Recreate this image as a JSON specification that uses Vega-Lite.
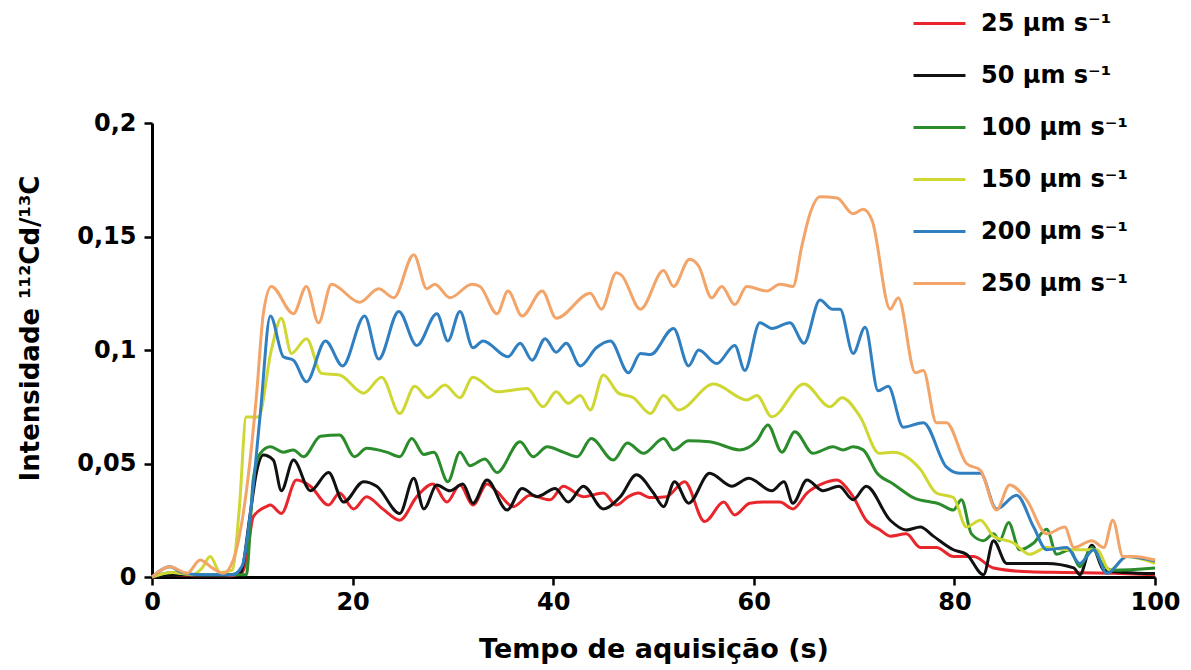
{
 "$schema": "https://vega.github.io/schema/vega-lite/v6.json",
 "width": 1003, "height": 454,
 "autosize": {"type": "none"},
 "padding": {"left": 152, "top": 123, "right": 36, "bottom": 93},
 "background": "white",
 "config": {"view": {"stroke": null}, "font": "DejaVu Sans"},
 "data": {"values": [
{"s":"25","t":0,"v":0},{"s":"25","t":2,"v":0.001},{"s":"25","t":5,"v":0.0005},{"s":"25","t":8,"v":0.0005},{"s":"25","t":9,"v":0.002},{"s":"25","t":9.4,"v":0.0075},{"s":"25","t":10.1,"v":0.0266},{"s":"25","t":11.4,"v":0.031},{"s":"25","t":11.8,"v":0.0317},{"s":"25","t":12.9,"v":0.028},{"s":"25","t":14.4,"v":0.0427},{"s":"25","t":15.8,"v":0.04},{"s":"25","t":17.6,"v":0.0317},{"s":"25","t":18.7,"v":0.037},{"s":"25","t":20.1,"v":0.03},{"s":"25","t":21.4,"v":0.0354},{"s":"25","t":23,"v":0.03},{"s":"25","t":24.7,"v":0.025},{"s":"25","t":26.4,"v":0.0354},{"s":"25","t":28,"v":0.041},{"s":"25","t":29.4,"v":0.033},{"s":"25","t":30.7,"v":0.0405},{"s":"25","t":32,"v":0.0317},{"s":"25","t":33.4,"v":0.041},{"s":"25","t":34.4,"v":0.0376},{"s":"25","t":36,"v":0.031},{"s":"25","t":37.7,"v":0.036},{"s":"25","t":39.7,"v":0.034},{"s":"25","t":41,"v":0.04},{"s":"25","t":43,"v":0.0354},{"s":"25","t":45,"v":0.037},{"s":"25","t":46.3,"v":0.0317},{"s":"25","t":47.5,"v":0.0354},{"s":"25","t":48.5,"v":0.037},{"s":"25","t":49.6,"v":0.035},{"s":"25","t":51.3,"v":0.0354},{"s":"25","t":53.1,"v":0.042},{"s":"25","t":55.1,"v":0.0244},{"s":"25","t":57,"v":0.033},{"s":"25","t":58.1,"v":0.0273},{"s":"25","t":59.6,"v":0.0325},{"s":"25","t":61,"v":0.033},{"s":"25","t":62.6,"v":0.033},{"s":"25","t":63.9,"v":0.03},{"s":"25","t":65.3,"v":0.037},{"s":"25","t":66.8,"v":0.041},{"s":"25","t":68.3,"v":0.0427},{"s":"25","t":69.3,"v":0.039},{"s":"25","t":69.9,"v":0.0354},{"s":"25","t":71.2,"v":0.025},{"s":"25","t":72.6,"v":0.0207},{"s":"25","t":73.6,"v":0.018},{"s":"25","t":75.2,"v":0.019},{"s":"25","t":76.6,"v":0.013},{"s":"25","t":78.2,"v":0.013},{"s":"25","t":79.9,"v":0.009},{"s":"25","t":81.9,"v":0.009},{"s":"25","t":83.9,"v":0.004},{"s":"25","t":87.5,"v":0.0023},{"s":"25","t":91,"v":0.002},{"s":"25","t":95.8,"v":0.0016},{"s":"25","t":100,"v":0.001},
{"s":"50","t":0,"v":0},{"s":"50","t":3,"v":0.001},{"s":"50","t":6,"v":0.0005},{"s":"50","t":8.8,"v":0.0016},{"s":"50","t":9.8,"v":0.028},{"s":"50","t":10.4,"v":0.0457},{"s":"50","t":11.1,"v":0.0537},{"s":"50","t":12.1,"v":0.0515},{"s":"50","t":12.9,"v":0.038},{"s":"50","t":14.1,"v":0.0515},{"s":"50","t":15.8,"v":0.038},{"s":"50","t":17.6,"v":0.046},{"s":"50","t":19.1,"v":0.033},{"s":"50","t":21.1,"v":0.042},{"s":"50","t":22.4,"v":0.04},{"s":"50","t":24.7,"v":0.028},{"s":"50","t":26.1,"v":0.0435},{"s":"50","t":27.1,"v":0.03},{"s":"50","t":28.4,"v":0.0405},{"s":"50","t":29.7,"v":0.038},{"s":"50","t":31,"v":0.041},{"s":"50","t":32,"v":0.0325},{"s":"50","t":33.4,"v":0.0427},{"s":"50","t":35.4,"v":0.0295},{"s":"50","t":36.9,"v":0.039},{"s":"50","t":38.4,"v":0.0354},{"s":"50","t":40.2,"v":0.039},{"s":"50","t":41.5,"v":0.033},{"s":"50","t":43,"v":0.04},{"s":"50","t":45,"v":0.03},{"s":"50","t":46.7,"v":0.0354},{"s":"50","t":48.3,"v":0.045},{"s":"50","t":50,"v":0.037},{"s":"50","t":51,"v":0.031},{"s":"50","t":52.1,"v":0.042},{"s":"50","t":53.5,"v":0.0325},{"s":"50","t":55.6,"v":0.0457},{"s":"50","t":57.8,"v":0.04},{"s":"50","t":59.5,"v":0.0435},{"s":"50","t":61.8,"v":0.038},{"s":"50","t":63,"v":0.042},{"s":"50","t":63.9,"v":0.0325},{"s":"50","t":65.3,"v":0.0427},{"s":"50","t":66.9,"v":0.038},{"s":"50","t":68.5,"v":0.04},{"s":"50","t":69.9,"v":0.034},{"s":"50","t":71.2,"v":0.04},{"s":"50","t":73.6,"v":0.025},{"s":"50","t":75.2,"v":0.0207},{"s":"50","t":76.6,"v":0.022},{"s":"50","t":77.9,"v":0.018},{"s":"50","t":79.9,"v":0.012},{"s":"50","t":81.2,"v":0.01},{"s":"50","t":82.9,"v":0.001},{"s":"50","t":83.9,"v":0.016},{"s":"50","t":85.2,"v":0.006},{"s":"50","t":89.2,"v":0.006},{"s":"50","t":91.9,"v":0.004},{"s":"50","t":92.5,"v":0.001},{"s":"50","t":93.7,"v":0.014},{"s":"50","t":94.9,"v":0.003},{"s":"50","t":97,"v":0.002},{"s":"50","t":100,"v":0.0015},
{"s":"100","t":0,"v":0},{"s":"100","t":2,"v":0.002},{"s":"100","t":4,"v":0.001},{"s":"100","t":7,"v":0.001},{"s":"100","t":9.4,"v":0.001},{"s":"100","t":10.1,"v":0.043},{"s":"100","t":10.8,"v":0.0545},{"s":"100","t":11.8,"v":0.0574},{"s":"100","t":13.1,"v":0.055},{"s":"100","t":14.1,"v":0.056},{"s":"100","t":15.1,"v":0.053},{"s":"100","t":16.8,"v":0.062},{"s":"100","t":18.7,"v":0.0626},{"s":"100","t":20.2,"v":0.053},{"s":"100","t":21.4,"v":0.0567},{"s":"100","t":23.4,"v":0.055},{"s":"100","t":24.7,"v":0.053},{"s":"100","t":25.9,"v":0.061},{"s":"100","t":27.1,"v":0.054},{"s":"100","t":28.1,"v":0.055},{"s":"100","t":29.5,"v":0.042},{"s":"100","t":30.7,"v":0.055},{"s":"100","t":31.7,"v":0.049},{"s":"100","t":33.2,"v":0.052},{"s":"100","t":34.4,"v":0.046},{"s":"100","t":36.7,"v":0.0596},{"s":"100","t":38,"v":0.053},{"s":"100","t":39.4,"v":0.0574},{"s":"100","t":41,"v":0.055},{"s":"100","t":42.4,"v":0.053},{"s":"100","t":43.8,"v":0.061},{"s":"100","t":46,"v":0.0515},{"s":"100","t":47.4,"v":0.059},{"s":"100","t":49,"v":0.0545},{"s":"100","t":51,"v":0.061},{"s":"100","t":52,"v":0.056},{"s":"100","t":53.5,"v":0.06},{"s":"100","t":55.6,"v":0.0596},{"s":"100","t":58.6,"v":0.056},{"s":"100","t":60.3,"v":0.06},{"s":"100","t":61.4,"v":0.067},{"s":"100","t":62.8,"v":0.055},{"s":"100","t":64.1,"v":0.064},{"s":"100","t":65.9,"v":0.0545},{"s":"100","t":67.9,"v":0.0574},{"s":"100","t":68.9,"v":0.056},{"s":"100","t":69.9,"v":0.0574},{"s":"100","t":70.9,"v":0.056},{"s":"100","t":72.3,"v":0.0457},{"s":"100","t":73.9,"v":0.041},{"s":"100","t":75.9,"v":0.035},{"s":"100","t":78.6,"v":0.032},{"s":"100","t":79.9,"v":0.0295},{"s":"100","t":80.7,"v":0.034},{"s":"100","t":81.7,"v":0.019},{"s":"100","t":82.9,"v":0.016},{"s":"100","t":83.9,"v":0.019},{"s":"100","t":84.5,"v":0.016},{"s":"100","t":85.4,"v":0.024},{"s":"100","t":86.5,"v":0.012},{"s":"100","t":87.9,"v":0.015},{"s":"100","t":89.2,"v":0.021},{"s":"100","t":90.2,"v":0.01},{"s":"100","t":91.5,"v":0.012},{"s":"100","t":92.5,"v":0.0045},{"s":"100","t":93.7,"v":0.013},{"s":"100","t":94.7,"v":0.006},{"s":"100","t":95.8,"v":0.003},{"s":"100","t":100,"v":0.004},
{"s":"150","t":0,"v":0},{"s":"150","t":2,"v":0.002},{"s":"150","t":4,"v":0.001},{"s":"150","t":5,"v":0.004},{"s":"150","t":5.8,"v":0.009},{"s":"150","t":6.8,"v":0.002},{"s":"150","t":8,"v":0.003},{"s":"150","t":8.7,"v":0.03},{"s":"150","t":9.4,"v":0.0705},{"s":"150","t":10.6,"v":0.0705},{"s":"150","t":11.9,"v":0.1},{"s":"150","t":12.9,"v":0.114},{"s":"150","t":13.9,"v":0.0985},{"s":"150","t":15.4,"v":0.105},{"s":"150","t":16.9,"v":0.0897},{"s":"150","t":18.7,"v":0.089},{"s":"150","t":21.1,"v":0.081},{"s":"150","t":22.9,"v":0.088},{"s":"150","t":24.7,"v":0.072},{"s":"150","t":26.2,"v":0.084},{"s":"150","t":27.5,"v":0.079},{"s":"150","t":29.2,"v":0.0846},{"s":"150","t":30.7,"v":0.079},{"s":"150","t":32,"v":0.088},{"s":"150","t":34.4,"v":0.0816},{"s":"150","t":37.4,"v":0.083},{"s":"150","t":39,"v":0.075},{"s":"150","t":40.3,"v":0.0816},{"s":"150","t":41.5,"v":0.0765},{"s":"150","t":42.7,"v":0.08},{"s":"150","t":43.7,"v":0.0736},{"s":"150","t":45,"v":0.089},{"s":"150","t":46.5,"v":0.081},{"s":"150","t":48,"v":0.079},{"s":"150","t":49.7,"v":0.072},{"s":"150","t":51,"v":0.08},{"s":"150","t":52.5,"v":0.0736},{"s":"150","t":56,"v":0.085},{"s":"150","t":59.3,"v":0.078},{"s":"150","t":60.3,"v":0.08},{"s":"150","t":61.8,"v":0.0706},{"s":"150","t":65,"v":0.085},{"s":"150","t":67.6,"v":0.075},{"s":"150","t":68.8,"v":0.079},{"s":"150","t":70.6,"v":0.0706},{"s":"150","t":72.5,"v":0.0545},{"s":"150","t":73.9,"v":0.055},{"s":"150","t":76.6,"v":0.0475},{"s":"150","t":78.2,"v":0.037},{"s":"150","t":79.9,"v":0.035},{"s":"150","t":81.2,"v":0.022},{"s":"150","t":82.6,"v":0.025},{"s":"150","t":83.9,"v":0.018},{"s":"150","t":85.9,"v":0.015},{"s":"150","t":87.5,"v":0.01},{"s":"150","t":89.2,"v":0.013},{"s":"150","t":91.2,"v":0.012},{"s":"150","t":94.2,"v":0.012},{"s":"150","t":95.5,"v":0.003},{"s":"150","t":97.2,"v":0.009},{"s":"150","t":100,"v":0.006},
{"s":"200","t":0,"v":0},{"s":"200","t":1.8,"v":0.0045},{"s":"200","t":3,"v":0.002},{"s":"200","t":5,"v":0.001},{"s":"200","t":8,"v":0.001},{"s":"200","t":9,"v":0.005},{"s":"200","t":9.8,"v":0.028},{"s":"200","t":10.8,"v":0.072},{"s":"200","t":11.8,"v":0.115},{"s":"200","t":13.1,"v":0.097},{"s":"200","t":14.1,"v":0.0955},{"s":"200","t":15.4,"v":0.086},{"s":"200","t":17.3,"v":0.104},{"s":"200","t":19,"v":0.093},{"s":"200","t":21.2,"v":0.115},{"s":"200","t":22.6,"v":0.096},{"s":"200","t":24.6,"v":0.117},{"s":"200","t":26.4,"v":0.102},{"s":"200","t":28.4,"v":0.116},{"s":"200","t":29.5,"v":0.104},{"s":"200","t":30.7,"v":0.117},{"s":"200","t":32,"v":0.101},{"s":"200","t":33,"v":0.104},{"s":"200","t":35.5,"v":0.097},{"s":"200","t":36.7,"v":0.103},{"s":"200","t":37.9,"v":0.0955},{"s":"200","t":39.2,"v":0.105},{"s":"200","t":40.3,"v":0.099},{"s":"200","t":41.3,"v":0.103},{"s":"200","t":42.7,"v":0.093},{"s":"200","t":44.3,"v":0.101},{"s":"200","t":45.7,"v":0.104},{"s":"200","t":47.5,"v":0.09},{"s":"200","t":48.7,"v":0.0985},{"s":"200","t":49.7,"v":0.098},{"s":"200","t":52,"v":0.1095},{"s":"200","t":53.5,"v":0.093},{"s":"200","t":54.5,"v":0.1},{"s":"200","t":56.3,"v":0.094},{"s":"200","t":58.1,"v":0.102},{"s":"200","t":59.1,"v":0.091},{"s":"200","t":60.6,"v":0.112},{"s":"200","t":61.8,"v":0.1095},{"s":"200","t":63.6,"v":0.112},{"s":"200","t":65,"v":0.103},{"s":"200","t":66.6,"v":0.122},{"s":"200","t":67.8,"v":0.118},{"s":"200","t":68.6,"v":0.118},{"s":"200","t":69.9,"v":0.0985},{"s":"200","t":71.1,"v":0.11},{"s":"200","t":72.4,"v":0.082},{"s":"200","t":73.4,"v":0.084},{"s":"200","t":74.9,"v":0.066},{"s":"200","t":76.9,"v":0.068},{"s":"200","t":79.2,"v":0.0485},{"s":"200","t":80.5,"v":0.0457},{"s":"200","t":82.6,"v":0.0457},{"s":"200","t":84.2,"v":0.03},{"s":"200","t":86.2,"v":0.036},{"s":"200","t":87.9,"v":0.022},{"s":"200","t":89.2,"v":0.012},{"s":"200","t":91.2,"v":0.013},{"s":"200","t":92.5,"v":0.006},{"s":"200","t":93.9,"v":0.012},{"s":"200","t":95.2,"v":0.0016},{"s":"200","t":97.2,"v":0.009},{"s":"200","t":100,"v":0.007},
{"s":"250","t":0,"v":0},{"s":"250","t":1.8,"v":0.0045},{"s":"250","t":3.5,"v":0.0016},{"s":"250","t":4.8,"v":0.0075},{"s":"250","t":6,"v":0.004},{"s":"250","t":7.1,"v":0.0016},{"s":"250","t":8.1,"v":0.0075},{"s":"250","t":9.1,"v":0.028},{"s":"250","t":10.4,"v":0.079},{"s":"250","t":11.1,"v":0.116},{"s":"250","t":11.9,"v":0.128},{"s":"250","t":14.1,"v":0.116},{"s":"250","t":15.4,"v":0.128},{"s":"250","t":16.6,"v":0.112},{"s":"250","t":17.9,"v":0.129},{"s":"250","t":20.7,"v":0.121},{"s":"250","t":22.6,"v":0.127},{"s":"250","t":24.1,"v":0.123},{"s":"250","t":26.1,"v":0.142},{"s":"250","t":27.4,"v":0.127},{"s":"250","t":28.2,"v":0.129},{"s":"250","t":29.7,"v":0.123},{"s":"250","t":31.9,"v":0.129},{"s":"250","t":32.7,"v":0.128},{"s":"250","t":34.4,"v":0.116},{"s":"250","t":35.5,"v":0.126},{"s":"250","t":36.9,"v":0.115},{"s":"250","t":38.9,"v":0.126},{"s":"250","t":40.3,"v":0.114},{"s":"250","t":43.7,"v":0.125},{"s":"250","t":44.8,"v":0.118},{"s":"250","t":46.3,"v":0.134},{"s":"250","t":46.8,"v":0.133},{"s":"250","t":48.7,"v":0.118},{"s":"250","t":51,"v":0.135},{"s":"250","t":52,"v":0.128},{"s":"250","t":53.6,"v":0.14},{"s":"250","t":54.5,"v":0.137},{"s":"250","t":55.8,"v":0.123},{"s":"250","t":56.8,"v":0.128},{"s":"250","t":58.1,"v":0.12},{"s":"250","t":59.3,"v":0.128},{"s":"250","t":61.3,"v":0.126},{"s":"250","t":62.6,"v":0.129},{"s":"250","t":63.9,"v":0.128},{"s":"250","t":64.8,"v":0.146},{"s":"250","t":65.6,"v":0.16},{"s":"250","t":66.6,"v":0.1675},{"s":"250","t":68.3,"v":0.167},{"s":"250","t":69.9,"v":0.16},{"s":"250","t":70.9,"v":0.162},{"s":"250","t":71.8,"v":0.157},{"s":"250","t":73.6,"v":0.118},{"s":"250","t":74.4,"v":0.123},{"s":"250","t":76.1,"v":0.09},{"s":"250","t":76.9,"v":0.091},{"s":"250","t":78.2,"v":0.068},{"s":"250","t":79.2,"v":0.068},{"s":"250","t":81.2,"v":0.05},{"s":"250","t":82.6,"v":0.047},{"s":"250","t":84.2,"v":0.0295},{"s":"250","t":85.5,"v":0.0405},{"s":"250","t":87.2,"v":0.034},{"s":"250","t":89.2,"v":0.019},{"s":"250","t":91,"v":0.022},{"s":"250","t":91.9,"v":0.013},{"s":"250","t":93.7,"v":0.016},{"s":"250","t":94.9,"v":0.013},{"s":"250","t":95.8,"v":0.025},{"s":"250","t":96.8,"v":0.009},{"s":"250","t":97.8,"v":0.009},{"s":"250","t":100,"v":0.0075}
 ]},
 "mark": {"type": "line", "interpolate": "monotone", "strokeWidth": 3},
 "encoding": {
  "x": {"field": "t", "type": "quantitative",
        "scale": {"domain": [0, 100], "nice": false},
        "axis": {"values": [0, 20, 40, 60, 80, 100], "title": "Tempo de aquisição (s)", "grid": false, "labelFlush": false,
                 "domainColor": "black", "domainWidth": 3, "tickColor": "black", "tickWidth": 2.5, "tickSize": 8,
                 "labelFont": "DejaVu Sans", "labelFontWeight": "bold", "labelFontSize": 24, "labelColor": "black", "labelPadding": 5,
                 "titleFont": "DejaVu Sans", "titleFontWeight": "bold", "titleFontSize": 27, "titleColor": "black", "titlePadding": 22}},
  "y": {"field": "v", "type": "quantitative",
        "scale": {"domain": [0, 0.2], "nice": false},
        "axis": {"values": [0, 0.05, 0.1, 0.15, 0.2], "title": "Intensidade ¹¹²Cd/¹³C", "grid": false, "labelFlush": false,
                 "labelExpr": "replace(format(datum.value, '~g'), '.', ',')",
                 "domainColor": "black", "domainWidth": 3, "tickColor": "black", "tickWidth": 2.5, "tickSize": 8,
                 "labelFont": "DejaVu Sans", "labelFontWeight": "bold", "labelFontSize": 24, "labelColor": "black", "labelPadding": 8,
                 "titleFont": "DejaVu Sans", "titleFontWeight": "bold", "titleFontSize": 26, "titleColor": "black",
                 "titleX": -122, "titleY": 205, "titleBaseline": "middle"}},
  "color": {"field": "s", "type": "nominal",
            "scale": {"domain": ["25", "50", "100", "150", "200", "250"],
                      "range": ["#e8262c", "#111111", "#2b8c2b", "#cfd733", "#2f7fc1", "#f2a469"]},
            "legend": {"orient": "none", "legendX": 760, "legendY": -127, "title": null,
                       "labelExpr": "datum.label + ' µm s⁻¹'",
                       "symbolType": "stroke", "symbolSize": 2700, "symbolStrokeWidth": 3,
                       "labelFont": "DejaVu Sans", "labelFontWeight": "bold", "labelFontSize": 24, "labelColor": "black",
                       "labelOffset": 14, "rowPadding": 12, "padding": 0}}
 }
}
